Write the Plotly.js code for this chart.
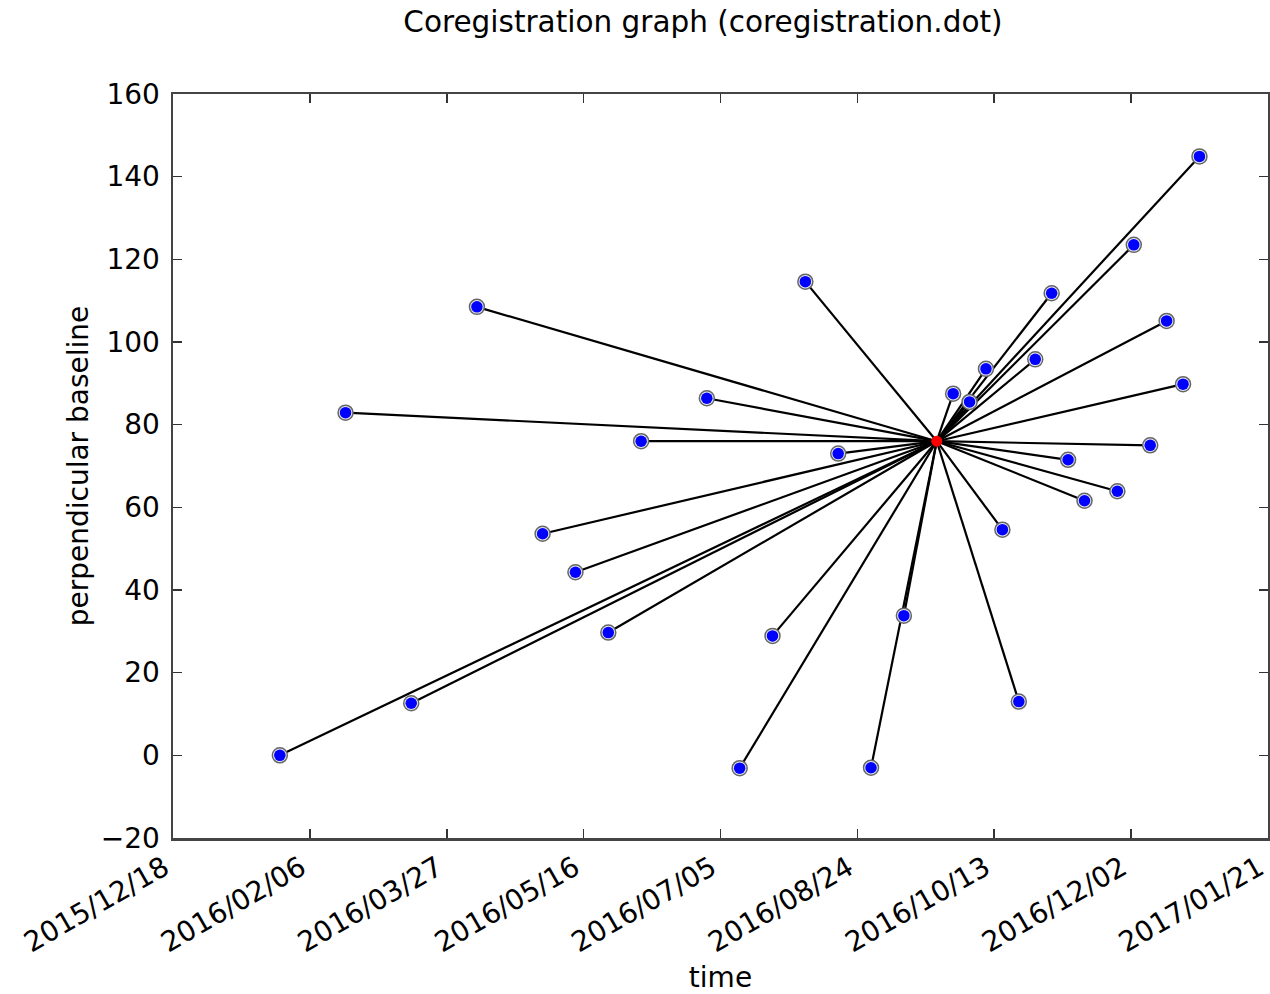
<!DOCTYPE html>
<html>
<head>
<meta charset="utf-8">
<script src="https://cdn.plot.ly/plotly-3.0.1.min.js"></script>
<style>
  html, body { margin: 0; padding: 0; background: #ffffff; }
  #chart { width: 1270px; height: 994px; }
</style>
</head>
<body>
<div id="chart"></div>
<script>
// Master (reference) acquisition
const masterDate = '2016-09-22';
const masterBaseline = 76.0;

// Slave acquisitions (date, perpendicular baseline)
const slaveDates = [
  '2016-01-26', '2016-02-19', '2016-03-14', '2016-04-07', '2016-05-01',
  '2016-05-13', '2016-05-25', '2016-06-06', '2016-06-30', '2016-07-12',
  '2016-07-24', '2016-08-05', '2016-08-17', '2016-08-29', '2016-09-10',
  '2016-09-28', '2016-10-04', '2016-10-10', '2016-10-16', '2016-10-22',
  '2016-10-28', '2016-11-03', '2016-11-09', '2016-11-15', '2016-11-27',
  '2016-12-03', '2016-12-09', '2016-12-15', '2016-12-21', '2016-12-27'
];
const slaveBaselines = [
  0.0, 82.9, 12.6, 108.5, 53.6,
  44.3, 29.7, 76.0, 86.4, -3.1,
  28.9, 114.6, 73.0, -3.0, 33.8,
  87.5, 85.5, 93.5, 54.6, 13.0,
  95.8, 111.8, 71.5, 61.6, 63.9,
  123.5, 75.0, 105.1, 89.8, 144.9
];

// Axis ticks
const xTickVals = ['2015-12-18', '2016-02-06', '2016-03-27', '2016-05-16', '2016-07-05',
                   '2016-08-24', '2016-10-13', '2016-12-02', '2017-01-21'];
const xTickLabels = ['2015/12/18', '2016/02/06', '2016/03/27', '2016/05/16', '2016/07/05',
                     '2016/08/24', '2016/10/13', '2016/12/02', '2017/01/21'];
const yTickVals = [-20, 0, 20, 40, 60, 80, 100, 120, 140, 160];

// Build edges (slave -> master) from the data arrays
const edgeX = [], edgeY = [];
for (let i = 0; i < slaveDates.length; i++) {
  edgeX.push(slaveDates[i], masterDate, null);
  edgeY.push(slaveBaselines[i], masterBaseline, null);
}

const FONT = 'DejaVu Sans, Liberation Sans, sans-serif';

const traces = [
  {
    type: 'scatter', mode: 'lines', x: edgeX, y: edgeY,
    line: { color: '#000000', width: 2.2 }, hoverinfo: 'skip', showlegend: false
  },
  {
    type: 'scatter', mode: 'markers', x: slaveDates, y: slaveBaselines,
    marker: { symbol: 'circle', size: 15, color: '#e8e8f4', line: { color: '#666666', width: 1.5 } },
    hoverinfo: 'skip', showlegend: false
  },
  {
    type: 'scatter', mode: 'markers', x: slaveDates, y: slaveBaselines,
    marker: { symbol: 'circle', size: 11.5, color: '#0000ff', line: { width: 0 } },
    showlegend: false
  },
  {
    type: 'scatter', mode: 'markers', x: [masterDate], y: [masterBaseline],
    marker: { symbol: 'circle', size: 11, color: '#ff0000', line: { width: 0 } },
    showlegend: false
  }
];

const layout = {
  width: 1270, height: 994,
  margin: { l: 173, r: 2, t: 94, b: 156, pad: 0 },
  paper_bgcolor: '#ffffff', plot_bgcolor: '#ffffff',
  font: { family: FONT, size: 28, color: '#000000' },
  title: {
    text: 'Coregistration graph (coregistration.dot)',
    font: { family: FONT, size: 29.5, color: '#000000' },
    xref: 'container', x: 0.5535, xanchor: 'center',
    yref: 'container', y: 0.978, yanchor: 'middle'
  },
  xaxis: {
    type: 'date',
    range: ['2015-12-17 23:00', '2017-01-21 01:00'],
    tickmode: 'array', tickvals: xTickVals, ticktext: xTickLabels,
    tickangle: -30,
    ticklabeloverflow: 'allow',
    ticklabelshift: -9,
    ticks: 'inside', ticklen: 9, tickwidth: 1.5, tickcolor: '#333333',
    showline: true, linecolor: '#444444', linewidth: 2.5, mirror: 'ticks',
    showgrid: false, zeroline: false,
    tickfont: { family: FONT, size: 28, color: '#000000' },
    title: { text: 'time', font: { family: FONT, size: 28, color: '#000000' }, standoff: 26 },
    automargin: false
  },
  yaxis: {
    range: [-20, 160],
    tickmode: 'array', tickvals: yTickVals,
    ticks: 'inside', ticklen: 9, tickwidth: 1.5, tickcolor: '#333333',
    showline: true, linecolor: '#444444', linewidth: 2.5, mirror: 'ticks',
    showgrid: false, zeroline: false,
    ticklabelstandoff: 5,
    tickfont: { family: FONT, size: 28, color: '#000000' },
    title: { text: 'perpendicular baseline', font: { family: FONT, size: 28, color: '#000000' }, standoff: 4 },
    automargin: false
  },
  showlegend: false
};

Plotly.newPlot('chart', traces, layout, { displayModeBar: false, staticPlot: true });
</script>
</body>
</html>
